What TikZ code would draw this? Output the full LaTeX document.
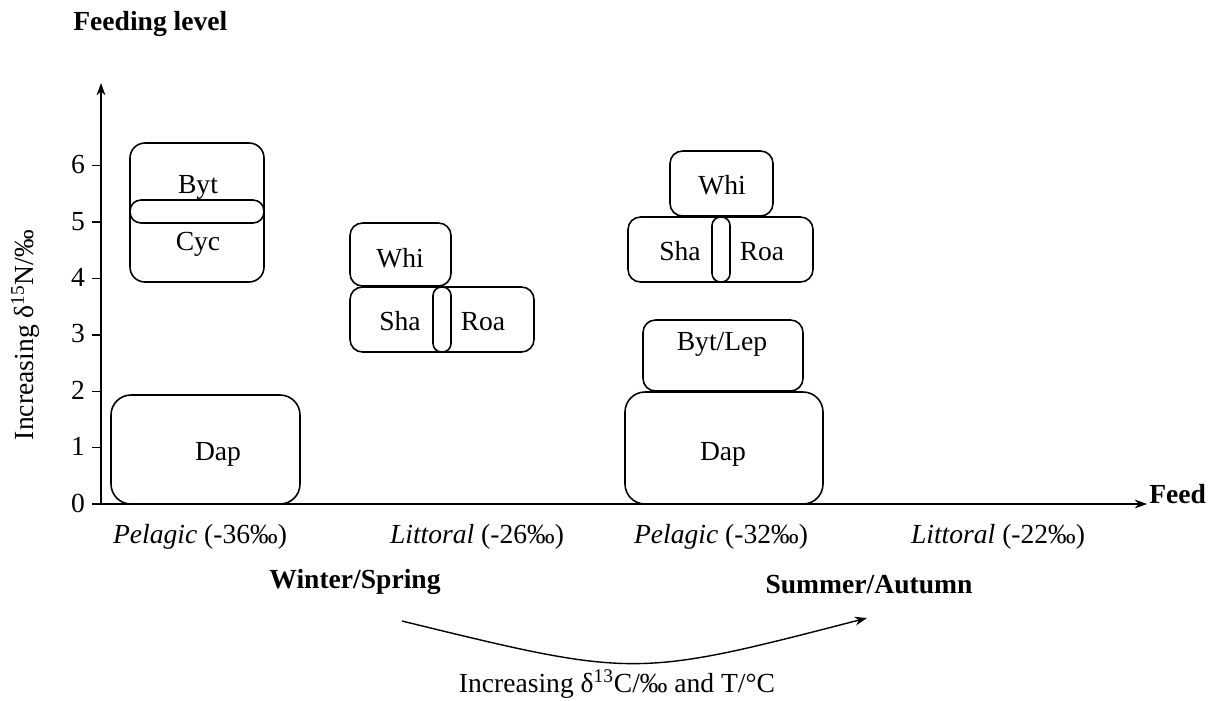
\documentclass[tikz,border=0pt]{standalone}
\usepackage{fontspec}
\setmainfont{Liberation Serif}
\usetikzlibrary{arrows.meta}
\tikzset{
	box/.style={draw, line width=0.9pt, rounded corners=0.3cm},
	pill/.style={draw, line width=0.9pt, rounded corners=#1},
	axis/.style={line width=0.8pt},
	tip/.style={-{Stealth[length=7pt,width=5pt]}},
	lbl/.style={inner sep=0pt, anchor=base, font=\fontsize{15.7}{19}\selectfont},
	head/.style={lbl, font=\fontsize{15.7}{19}\selectfont\bfseries},
}

\begin{document}
\begin{tikzpicture}[x=0.02cm, y=-0.02cm]
	\useasboundingbox (0,0) rectangle (1212,700);

	% axes
	\coordinate (O) at (101,504);
	\coordinate (ytip) at (101,83);
	\coordinate (xtip) at (1147,504);
	\draw [axis, tip] (O) -- (ytip);
	\draw [axis, tip] (92,504) -- (xtip);
	\foreach \k in {1,...,6}
		\draw [axis] (92,{504-56.4*\k}) -- (101,{504-56.4*\k});
	\foreach \k in {0,...,6}
		\node [lbl] (t\k) at (78,{512-56.4*\k}) {\k};

	\node [head, anchor=base west] (ylev) at (73,30) {Feeding level};
	\node [head, anchor=base west] (xlev) at (1149,503) {Feed};
	\node [lbl, rotate=90] (ylab) at (33,335) {Increasing δ\textsuperscript{15}N/‰};

	% winter / spring
	\draw [box] (130,143) rectangle (264,282);
	\draw [pill=0.22cm] (130,200) rectangle (264,223);
	\node [lbl] (byt1) at (198,193) {Byt};
	\node [lbl] (cyc1) at (198,250) {Cyc};
	\draw [box, rounded corners=0.4cm] (111,395) rectangle (300,504);
	\node [lbl] (dap1) at (218,460) {Dap};

	\draw [box, rounded corners=0.25cm] (350,223) rectangle (451,286);
	\node [lbl] (whi1) at (400,267) {Whi};
	\draw [box, rounded corners=0.25cm] (350,287) rectangle (534,352);
	\draw [pill=0.17cm] (433,287) rectangle (451,352);
	\node [lbl] (sha1) at (400,330) {Sha};
	\node [lbl] (roa1) at (483,330) {Roa};

	% summer / autumn
	\draw [box, rounded corners=0.25cm] (670,151) rectangle (773,216);
	\node [lbl] (whi2) at (722,194) {Whi};
	\draw [box, rounded corners=0.25cm] (628,217) rectangle (813,282);
	\draw [pill=0.17cm] (712,217) rectangle (730,282);
	\node [lbl] (sha2) at (680,260) {Sha};
	\node [lbl] (roa2) at (762,260) {Roa};

	\draw [box, rounded corners=0.25cm] (643,320) rectangle (803,391);
	\node [lbl] (bytlep) at (722,350) {Byt/Lep};
	\draw [box, rounded corners=0.4cm] (625,392) rectangle (823,504);
	\node [lbl] (dap2) at (723,460) {Dap};

	% habitats and seasons
	\node [lbl] (pel1) at (200,543) {\textit{Pelagic} (-36‰)};
	\node [lbl] (lit1) at (477,543) {\textit{Littoral} (-26‰)};
	\node [lbl] (pel2) at (721,543) {\textit{Pelagic} (-32‰)};
	\node [lbl] (lit2) at (998,543) {\textit{Littoral} (-22‰)};
	\node [head] (winter) at (355,588) {Winter/Spring};
	\node [head] (summer) at (869,593) {Summer/Autumn};

	\coordinate (cs) at (402,621);
	\coordinate (ce) at (867,618);
	\draw [axis, tip] (cs) .. controls (635,678) .. (ce);
	\node [lbl] (trend) at (617,692) {Increasing δ\textsuperscript{13}C/‰ and T/°C};
\end{tikzpicture}
\end{document}
